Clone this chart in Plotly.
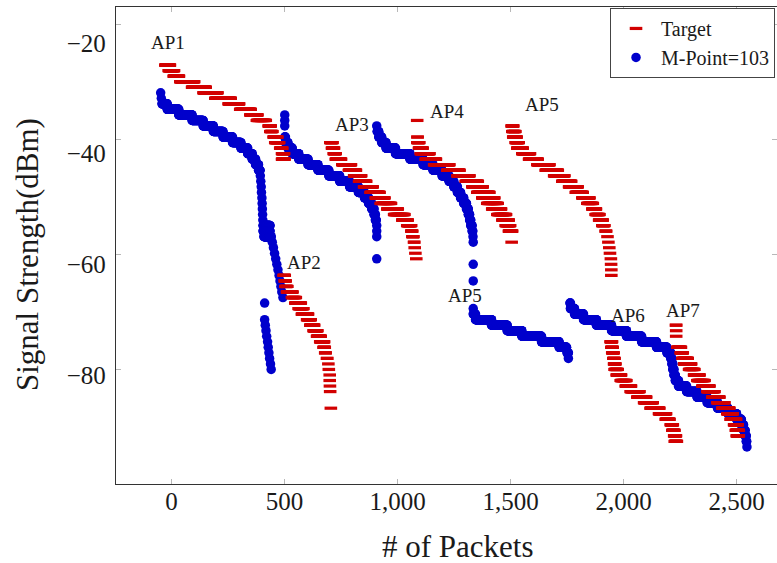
import numpy as np
import plotly.graph_objects as go

# ---------------- data (RSSI level in dBm, first and last packet index at that level) ----------
# Target (red)
t1_rssi = [-24, -25, -26, -27, -28, -29, -30, -31, -32, -33, -34, -35, -36, -37, -38, -39, -40, -41]
t1_from = [-27, -12, 10, 39, 91, 142, 194, 253, 304, 349, 378, 430, 437, 452, 459, 481, 489, 489]
t1_to = [-7, 11, 33, 100, 151, 203, 262, 299, 350, 380, 417, 439, 446, 468, 476, 490, 498, 500]

t2_rssi = [-62, -63, -64, -65, -66, -67, -68, -69, -70, -71, -72, -73, -74, -75, -76, -77, -78, -79, -80, -81, -82, -83, -86]
t2_from = [496, 501, 504, 511, 533, 548, 563, 577, 600, 614, 629, 644, 658, 673, 680, 688, 694, 696, 700, 700, 701, 702, 705]
t2_to = [501, 505, 512, 535, 550, 572, 583, 604, 616, 631, 645, 660, 675, 678, 682, 689, 694, 696, 700, 700, 701, 702, 705]

t3_rssi = [-38, -39, -40, -41, -42, -43, -44, -45, -46, -47, -48, -49, -50, -51, -52, -53, -54, -55, -56, -57, -58, -59]
t3_from = [703, 710, 718, 727, 756, 785, 808, 830, 852, 881, 904, 926, 955, 985, 1021, 1043, 1061, 1066, 1073, 1076, 1079, 1083]
t3_to = [712, 719, 726, 750, 794, 816, 839, 861, 890, 920, 942, 971, 1001, 1030, 1045, 1060, 1065, 1070, 1074, 1076, 1079, 1083]

t4_rssi = [-34, -37, -38, -39, -40, -41, -42, -43, -44, -45, -46, -47, -48, -49, -50, -51, -52, -53, -54, -56]
t4_from = [1087, 1088, 1088, 1095, 1103, 1125, 1162, 1220, 1265, 1302, 1331, 1353, 1375, 1397, 1419, 1442, 1464, 1479, 1493, 1505]
t4_to = [1087, 1089, 1096, 1111, 1141, 1170, 1229, 1274, 1318, 1355, 1377, 1406, 1428, 1443, 1458, 1480, 1492, 1498, 1507, 1505]

t5_rssi = [-35, -36, -37, -38, -39, -40, -41, -42, -43, -44, -45, -46, -47, -48, -49, -50, -51, -52, -53, -54,
           -55, -56, -57, -58, -59, -60, -61, -62]
t5_from = [1505, 1508, 1512, 1523, 1530, 1552, 1582, 1619, 1656, 1693, 1729, 1759, 1789, 1818, 1840, 1862, 1877, 1892,
           1906, 1921, 1929, 1933, 1937, 1940, 1944, 1945, 1946, 1946]
t5_to = [1512, 1521, 1527, 1536, 1554, 1586, 1620, 1672, 1709, 1738, 1768, 1797, 1819, 1849, 1864, 1878, 1893, 1908,
         1915, 1923, 1929, 1933, 1937, 1940, 1944, 1945, 1946, 1946]

t6_rssi = [-74, -75, -76, -77, -78, -79, -80, -81, -82, -83, -84, -85, -86, -87, -88, -89, -90, -91, -92]
t6_from = [1943, 1946, 1950, 1955, 1958, 1961, 1970, 1988, 2010, 2032, 2061, 2091, 2120, 2157, 2187, 2209, 2216, 2224, 2227]
t6_to = [1949, 1952, 1956, 1960, 1964, 1974, 1989, 2012, 2033, 2070, 2100, 2129, 2158, 2188, 2203, 2218, 2225, 2232, 2236]

t7_rssi = [-71, -72, -73, -75, -76, -77, -78, -79, -80, -81, -82, -83, -84, -85, -86, -87, -88, -89, -90, -91]
t7_from = [2232, 2233, 2233, 2238, 2253, 2260, 2268, 2290, 2312, 2327, 2349, 2371, 2393, 2415, 2437, 2459, 2474, 2489, 2497, 2501]
t7_to = [2233, 2233, 2233, 2254, 2262, 2284, 2299, 2313, 2336, 2358, 2380, 2402, 2424, 2446, 2468, 2483, 2498, 2505, 2510, 2510]

# M-Point=103 (blue)
m1_rssi = [-29, -30, -31, -32, -33, -34, -35, -36, -37, -38, -39, -40, -41, -42, -43, -44, -45, -46, -47, -48, -49, -50,
           -51, -52, -53, -54, -55, -56, -57, -58, -59, -60, -61, -62, -63, -64, -65, -66, -67,
           -70, -71, -72, -73, -74, -75, -76, -77, -78, -79]
m1_from = [-48, -45, -42, -19, 32, 91, 140, 185, 228, 270, 307, 337, 357, 372, 385, 393, 395, 397, 398, 400, 401, 402,
           403, 404, 405, 405, 409, 446, 451, 456, 461, 466, 471, 476, 480, 484, 488, 493, 412,
           412, 415, 418, 421, 425, 428, 431, 434, 438, 441]
m1_to = [-48, -45, -19, 32, 91, 140, 185, 228, 270, 307, 337, 357, 372, 385, 392, 393, 395, 397, 398, 400, 401, 402,
         403, 404, 436, 436, 441, 446, 451, 456, 461, 466, 471, 476, 480, 484, 488, 493, 412,
         412, 415, 418, 421, 425, 428, 431, 434, 438, 441]

m2_rssi = [-33, -34, -35, -37, -38, -39, -40, -41, -42, -43, -44, -45, -46, -47, -48, -49, -50, -51, -52, -53, -54, -55, -59]
m2_from = [501, 501, 501, 501, 504, 515, 534, 563, 604, 648, 696, 744, 788, 827, 854, 872, 886, 896, 902, 908, 908, 908, 908]
m2_to = [501, 501, 501, 504, 515, 534, 563, 604, 648, 696, 744, 788, 827, 854, 872, 886, 896, 902, 906, 908, 908, 908, 908]

m3_rssi = [-35, -36, -37, -38, -39, -40, -41, -42, -43, -44, -45, -46, -47, -48, -49, -50, -51, -52, -53, -54, -55, -56, -60, -63]
m3_from = [908, 910, 917, 930, 949, 991, 1055, 1113, 1157, 1197, 1228, 1249, 1265, 1279, 1293, 1305, 1313, 1319, 1324, 1330,
           1334, 1335, 1335, 1335]
m3_to = [908, 917, 930, 949, 991, 1055, 1113, 1157, 1197, 1228, 1249, 1265, 1279, 1293, 1305, 1313, 1319, 1324, 1330, 1333,
         1334, 1335, 1335, 1335]

m4_rssi = [-68, -69, -70, -71, -72, -73, -74, -75, -76, -77]
m4_from = [1335, 1335, 1345, 1416, 1485, 1550, 1637, 1715, 1750, 1756]
m4_to = [1335, 1345, 1416, 1485, 1550, 1637, 1715, 1748, 1756, 1756]

m5_rssi = [-67, -68, -69, -70, -71, -72, -73, -74, -75, -76, -77, -78, -79, -80, -81, -82, -83, -84, -85, -86, -87, -88,
           -89, -90, -91, -92, -93]
m5_from = [1763, 1765, 1783, 1823, 1880, 1947, 2013, 2080, 2146, 2192, 2209, 2214, 2218, 2223, 2229, 2243, 2279, 2325,
           2370, 2416, 2462, 2500, 2521, 2531, 2538, 2543, 2546]
m5_to = [1765, 1783, 1823, 1880, 1947, 2013, 2080, 2146, 2192, 2209, 2214, 2218, 2223, 2229, 2243, 2279, 2325, 2370,
         2416, 2462, 2500, 2521, 2531, 2538, 2543, 2545, 2546]

ap_labels = ["AP1", "AP2", "AP3", "AP4", "AP5", "AP5", "AP6", "AP7"]
ap_label_x = [-15, 586, 799, 1219, 1639, 1299, 2020, 2263]
ap_label_y = [-20.0, -59.6, -34.8, -32.3, -31.2, -65.7, -69.2, -68.3]

x_ticks = [0, 500, 1000, 1500, 2000, 2500]
y_ticks = [-80, -60, -40, -20]


def decode(rssi, start, end):
    """Run-length decode: one point per packet index held at each RSSI level."""
    xs, ys = [], []
    for r, a, b in zip(rssi, start, end):
        for p in range(a, b + 1):
            xs.append(p)
            ys.append(r)
    return xs, ys


target = [(t1_rssi, t1_from, t1_to), (t2_rssi, t2_from, t2_to), (t3_rssi, t3_from, t3_to),
          (t4_rssi, t4_from, t4_to), (t5_rssi, t5_from, t5_to), (t6_rssi, t6_from, t6_to),
          (t7_rssi, t7_from, t7_to)]
mpoint = [(m1_rssi, m1_from, m1_to), (m2_rssi, m2_from, m2_to), (m3_rssi, m3_from, m3_to),
          (m4_rssi, m4_from, m4_to), (m5_rssi, m5_from, m5_to)]

tx, ty = [], []
for seg in target:
    a, b = decode(*seg)
    tx += a
    ty += b
mx, my = [], []
for seg in mpoint:
    a, b = decode(*seg)
    mx += a
    my += b

RED = "#d20000"
BLUE = "#0000cc"
FONT = "Liberation Serif"
TXT = "#1a1a1a"

fig = go.Figure()
fig.add_trace(go.Scatter(
    x=mx, y=my, mode="markers", name="M-Point=103", legendrank=2,
    marker=dict(symbol="circle", size=9.5, color=BLUE, line=dict(width=0)),
))
fig.add_trace(go.Scatter(
    x=tx, y=ty, mode="markers", name="Target", legendrank=1,
    marker=dict(symbol="line-ew", size=9, color=RED, line=dict(width=3.2, color=RED)),
))
# invisible helper trace for the tick-mark axis
fig.add_trace(go.Scatter(x=[None], y=[None], yaxis="y2", showlegend=False, hoverinfo="skip"))

for lab, lx, ly in zip(ap_labels, ap_label_x, ap_label_y):
    fig.add_annotation(x=lx, y=ly, xref="x", yref="y", text=lab, showarrow=False,
                       font=dict(family=FONT, size=19, color=TXT))

# axis titles
fig.add_annotation(x=0.5174, y=-0.13, xref="paper", yref="paper", text="# of Packets",
                   showarrow=False, xanchor="center", yanchor="middle",
                   font=dict(family=FONT, size=31, color=TXT))
fig.add_annotation(x=-0.1346, y=0.48, xref="paper", yref="paper", text="Signal Strength(dBm)",
                   showarrow=False, textangle=-90, xanchor="center", yanchor="middle",
                   font=dict(family=FONT, size=31, color=TXT))

tick_style = dict(ticks="inside", ticklen=5, tickwidth=1, tickcolor="#b8b8b8")
line_style = dict(showgrid=False, zeroline=False, showline=True, linecolor="#333", linewidth=1.3)

fig.update_layout(
    width=777, height=563,
    margin=dict(l=116, r=0, t=7, b=79),
    paper_bgcolor="white", plot_bgcolor="white",
    xaxis=dict(range=[-245.6, 2679], tickvals=x_ticks, tickformat=",d", mirror="ticks",
               ticklabelstandoff=-5, tickfont=dict(family=FONT, size=25, color=TXT),
               **tick_style, **line_style),
    yaxis=dict(range=[-99.7, -13.5], tickvals=y_ticks, mirror=True, ticks="",
               ticklabelstandoff=4, tickfont=dict(family=FONT, size=25, color=TXT), **line_style),
    yaxis2=dict(range=[-100.0, -17.043], tickvals=y_ticks, overlaying="y", side="left", anchor="x",
                showticklabels=False, mirror="ticks", **tick_style, **line_style),
    legend=dict(x=0.997, y=0.998, xanchor="right", yanchor="top", bgcolor="white",
                bordercolor="#444", borderwidth=1, font=dict(family=FONT, size=20, color=TXT),
                tracegroupgap=0, itemwidth=40),
    showlegend=True,
)

fig.write_html("out.html")
